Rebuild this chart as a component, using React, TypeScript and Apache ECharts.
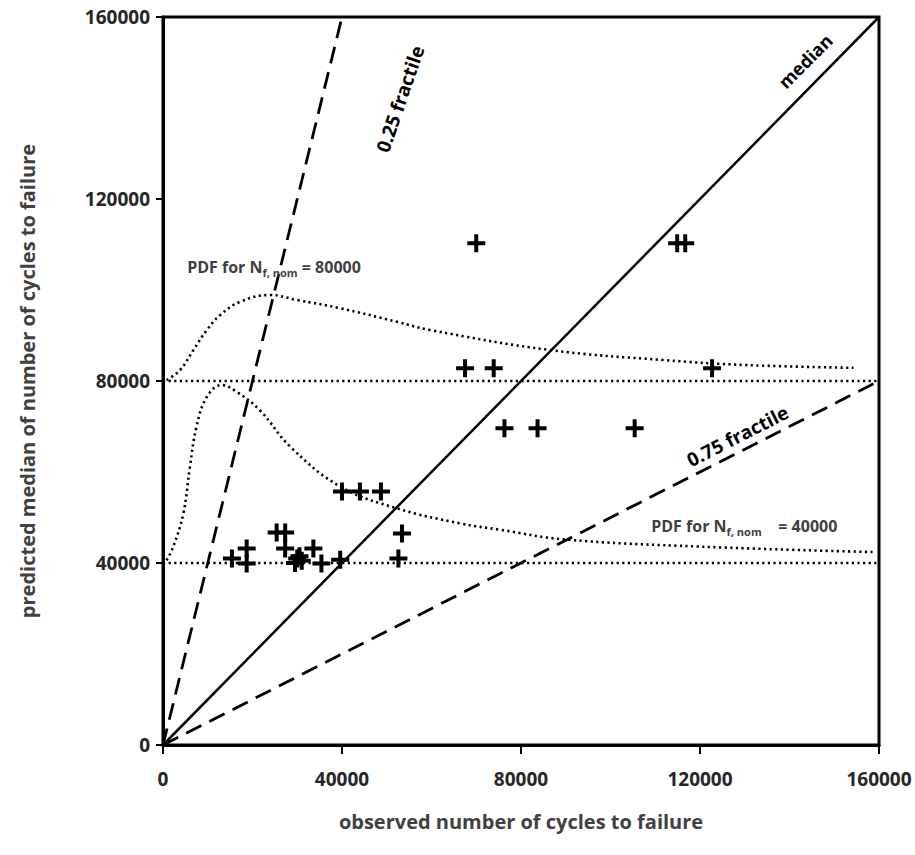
import React, { useEffect, useRef } from "react";
import * as echarts from "echarts";

// Axis range and tick step (cycles)
const axisMin = 0;
const axisMax = 160000;
const tickStep = 40000;

// Test results: observed vs. predicted median number of cycles to failure
const observedCycles = [
  70000, 114900, 116700,
  67500, 73900, 122700,
  76300, 83700, 105400,
  40000, 44000, 48700,
  53400, 52600,
  15400, 18700, 18700,
  25400, 27300, 27300,
  29500, 30500, 31000, 30000,
  33600, 35400, 39600,
];
const predictedCycles = [
  110300, 110300, 110300,
  82800, 82800, 82800,
  69600, 69600, 69600,
  55700, 55700, 55700,
  46500, 41000,
  41000, 43200, 39900,
  46700, 46700, 43200,
  40000, 41500, 40500, 41000,
  43200, 39900, 40700,
];

// Reference lines through the origin
const medianLine = [[0, 0], [160000, 160000]];
const fractile25Line = [[0, 0], [40000, 160000]];
const fractile75Line = [[0, 0], [160000, 80000]];

// Nominal lives used as baselines of the two density curves
const nominal40 = [[0, 40000], [160000, 40000]];
const nominal80 = [[0, 80000], [160000, 80000]];

// Density curves (drawn on top of their baselines)
const pdf40X = [800, 2300, 4550, 6000, 7500, 9800, 13100, 16500, 21700, 28400, 39600, 52300, 66400, 75400, 89500, 120000, 158800];
const pdf40Y = [40600, 43600, 50900, 61000, 70000, 76500, 79100, 77600, 73500, 65600, 56800, 52000, 48700, 47300, 45200, 43600, 42400];
const pdf80X = [800, 3800, 6800, 9800, 12800, 17200, 23900, 29900, 39600, 52300, 59700, 86500, 111900, 130500, 154300];
const pdf80Y = [80200, 82400, 86800, 91200, 94500, 97400, 98900, 97800, 96000, 93000, 91200, 86800, 84600, 83500, 82900];

const plusSymbol = "path://M7,0H11V7H18V11H11V18H7V11H0V7H7Z";
const FONT = "'Open Sans', 'Noto Sans', sans-serif";

const zip = (xs: number[], ys: number[]) => xs.map((x, i) => [x, ys[i]]);

export default function App() {
  const ref = useRef<HTMLDivElement>(null);

  useEffect(() => {
    document.body.style.margin = "0";
    if (!ref.current) return;
    const chart = echarts.init(ref.current, null, { renderer: "svg" });

    const dotted = { color: "#000", width: 2.6, type: [2.2, 3.4] as number[] };
    const dashed = { color: "#000", width: 2.8, type: [17, 9] as number[] };

    const axisCommon = {
      type: "value" as const,
      min: axisMin,
      max: axisMax,
      interval: tickStep,
      splitLine: { show: false },
      axisLine: { show: true, onZero: false, lineStyle: { color: "#000", width: 3 } },
      axisLabel: {
        fontFamily: FONT,
        fontWeight: "bold" as const,
        fontSize: 19,
        color: "#262626",
        formatter: (v: number) => String(v),
      },
      nameLocation: "middle" as const,
      nameTextStyle: {
        fontFamily: FONT,
        fontWeight: "bold" as const,
        fontSize: 20,
        color: "#404040",
      },
    };

    chart.setOption({
      animation: false,
      backgroundColor: "#fff",
      grid: {
        left: 163,
        right: 36,
        top: 17,
        bottom: 110,
        show: true,
        borderColor: "#000",
        borderWidth: 3,
      },
      xAxis: {
        ...axisCommon,
        name: "observed number of cycles to failure",
        nameGap: 66,
        axisTick: { show: true, length: 9, lineStyle: { color: "#000", width: 2 } },
        axisLabel: { ...axisCommon.axisLabel, margin: 24 },
      },
      yAxis: {
        ...axisCommon,
        name: "predicted median of number of cycles to failure",
        nameGap: 126,
        axisTick: { show: true, length: 7, lineStyle: { color: "#000", width: 2 } },
        axisLabel: { ...axisCommon.axisLabel, margin: 13 },
      },
      series: [
        { type: "line", data: nominal40, symbol: "none", lineStyle: dotted, silent: true },
        { type: "line", data: nominal80, symbol: "none", lineStyle: dotted, silent: true },
        { type: "line", data: zip(pdf40X, pdf40Y), smooth: 0.4, symbol: "none", lineStyle: dotted, silent: true },
        { type: "line", data: zip(pdf80X, pdf80Y), smooth: 0.4, symbol: "none", lineStyle: dotted, silent: true },
        { type: "line", data: fractile25Line, symbol: "none", lineStyle: dashed, silent: true },
        { type: "line", data: fractile75Line, symbol: "none", lineStyle: dashed, silent: true },
        { type: "line", data: medianLine, symbol: "none", lineStyle: { color: "#000", width: 2.5 }, silent: true },
        {
          type: "scatter",
          data: zip(observedCycles, predictedCycles),
          symbol: plusSymbol,
          symbolSize: 18,
          itemStyle: { color: "#000", opacity: 1 },
          z: 5,
        },
      ],
    });

    const px = (p: number[]) => chart.convertToPixel({ gridIndex: 0 }, p) as number[];
    const deg = Math.PI / 180;

    const lineLabel = (text: string, at: number[], angle: number, size: number) => {
      const [x, y] = px(at);
      return {
        type: "text",
        x,
        y,
        rotation: angle * deg,
        z: 10,
        style: {
          text,
          fontFamily: FONT,
          fontWeight: "bold",
          fontSize: size,
          fill: "#000",
          align: "center",
          verticalAlign: "middle",
        },
      };
    };

    const pdfLabel = (value: string, gap: string, at: number[]) => {
      const [x, y] = px(at);
      return {
        type: "text",
        x,
        y,
        z: 10,
        style: {
          text: `{a|PDF for N}{s|f, nom}{a|${gap}= ${value}}`,
          align: "left",
          verticalAlign: "middle",
          rich: {
            a: { fontFamily: FONT, fontWeight: "bold", fontSize: 16, fill: "#404040", lineHeight: 22 },
            s: { fontFamily: FONT, fontWeight: "bold", fontSize: 11, fill: "#404040", lineHeight: 11, verticalAlign: "bottom" },
          },
        },
      };
    };

    chart.setOption({
      graphic: [
        lineLabel("0.25 fractile", [53000, 142000], 71, 19),
        lineLabel("median", [143500, 150300], 45, 18),
        lineLabel("0.75 fractile", [128400, 67900], 27, 19),
        pdfLabel("80000", " ", [5400, 105100]),
        pdfLabel("40000", "    ", [109100, 48100]),
      ],
    });

    return () => chart.dispose();
  }, []);

  return <div ref={ref} style={{ width: 915, height: 855 }} />;
}
